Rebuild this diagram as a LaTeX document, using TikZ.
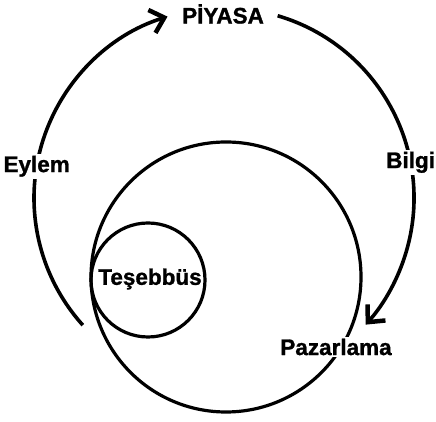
\documentclass[tikz,border=0pt]{standalone}
\usepackage{fontspec}
\setmainfont{Liberation Sans}[BoldFeatures={FakeBold=1.2}]
\usetikzlibrary{arrows.meta}

\begin{document}
\begin{tikzpicture}[
    x=1pt, y=1pt,
    ring/.style={draw, circle, line width=3.2pt, inner sep=0pt},
    flow/.style={-{Straight Barb[length=13pt, width=24pt, line width=4.5pt]}, line width=3.6pt},
    lbl/.style={font=\fontsize{22.5}{26}\selectfont\bfseries, inner sep=2pt},
    onarc/.style={lbl, fill=white}
]
\useasboundingbox (0,0) rectangle (436,422);

% The circles
\node[ring, minimum size=270pt] (pazar) at (226,145) {};
\node[ring, minimum size=114pt] (tesebbus) at (148,142) {};
\node[lbl] (tesebbuslbl) at (150,143) {Teşebbüs};
\node[onarc] (pazarlama) at (336,75) {Pazarlama};

% The cycle
\coordinate (mid) at (224,224);
\node[lbl] (piyasa) at (223,408) {PİYASA};
\coordinate (eylemfrom) at ([shift={(222:190)}]mid);
\coordinate (bilgifrom) at ([shift={(73.6:190)}]mid);

\draw[flow] (eylemfrom) arc[start angle=222, end angle=107.3, radius=190pt]
    node[onarc, pos=0.45] (eylem) {Eylem};
\draw[flow] (bilgifrom) arc[start angle=73.6, end angle=-41.8, radius=190pt]
    node[onarc, pos=0.544] (bilgi) {Bilgi};

\end{tikzpicture}
\end{document}
